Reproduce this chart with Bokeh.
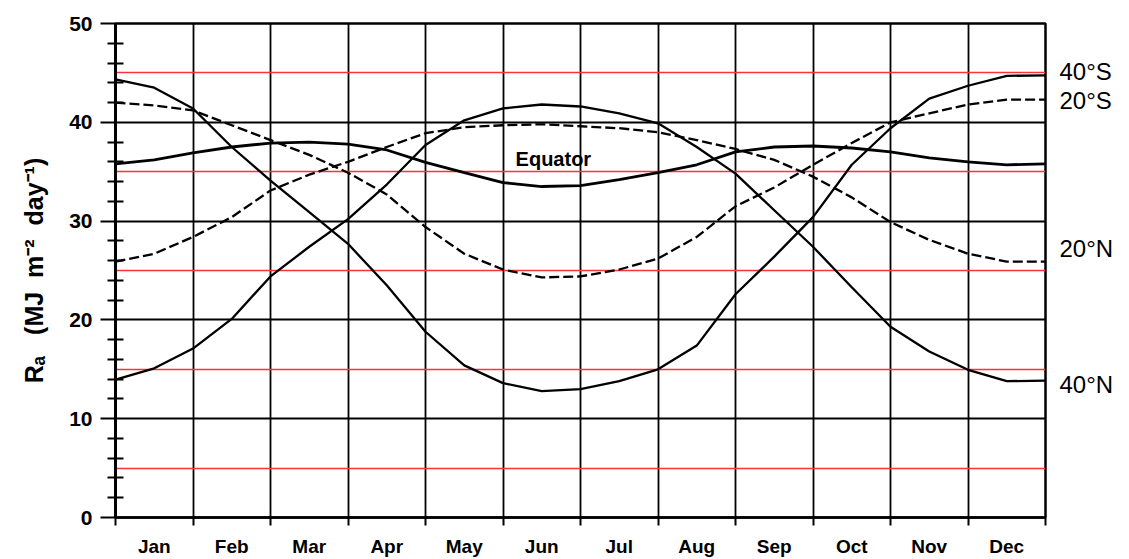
from bokeh.plotting import figure
from bokeh.models import FixedTicker, LinearAxis, Grid, Range1d, Label
from bokeh.embed import file_html
from bokeh.resources import INLINE

# ---- data -------------------------------------------------------------
months = ["Jan", "Feb", "Mar", "Apr", "May", "Jun",
          "Jul", "Aug", "Sep", "Oct", "Nov", "Dec"]
# sample positions: month boundaries and mid-months (in month units)
x_pos = [0, 0.5, 1, 1.5, 2, 2.5, 3, 3.5, 4, 4.5, 5, 5.5, 6,
         6.5, 7, 7.5, 8, 8.5, 9, 9.5, 10, 10.5, 11, 11.5, 12]

ra_40N = [13.95, 15.1, 17.1, 20.1, 24.4, 27.4, 30.2, 33.7, 37.7, 40.2, 41.4, 41.8, 41.6,
          40.9, 39.9, 37.5, 34.8, 31.1, 27.4, 23.3, 19.3, 16.8, 14.95, 13.8, 13.85]
ra_20N = [25.9, 26.7, 28.4, 30.4, 33.1, 34.7, 36.0, 37.5, 38.9, 39.5, 39.7, 39.8, 39.6,
          39.4, 39.0, 38.2, 37.3, 36.2, 34.5, 32.4, 29.9, 28.1, 26.7, 25.9, 25.9]
ra_eq = [35.8, 36.2, 36.9, 37.5, 37.9, 38.0, 37.8, 37.2, 35.95, 34.9, 33.9, 33.5, 33.6,
         34.2, 34.9, 35.7, 37.0, 37.5, 37.6, 37.4, 37.0, 36.4, 36.0, 35.7, 35.8]
ra_20S = [42.0, 41.7, 41.2, 39.7, 38.2, 36.7, 34.9, 32.7, 29.4, 26.7, 25.1, 24.3, 24.4,
          25.1, 26.2, 28.4, 31.5, 33.4, 35.7, 37.9, 40.0, 40.9, 41.8, 42.3, 42.3]
ra_40S = [44.35, 43.5, 41.4, 37.5, 34.1, 30.9, 27.7, 23.5, 18.8, 15.4, 13.6, 12.8, 13.0,
          13.8, 15.0, 17.4, 22.6, 26.4, 30.4, 35.7, 39.4, 42.4, 43.7, 44.7, 44.75]

lat_labels = ["40°S", "20°S", "20°N", "40°N"]
lat_label_y = [45.1, 42.2, 27.2, 13.5]

y_ticks = [0, 10, 20, 30, 40, 50]

# ---- figure -----------------------------------------------------------
FONT = "Liberation Sans"
NB = "\u00a0"
month_edges = list(range(13))
month_centers = [m + 0.5 for m in range(12)]

p = figure(width=1129, height=559, x_range=Range1d(0, 12), y_range=Range1d(0, 50),
           output_backend="svg", toolbar_location=None,
           min_border_left=115, min_border_right=84, min_border_top=23, min_border_bottom=34)
p.background_fill_color = "white"
p.border_fill_color = "white"
p.outline_line_color = "black"
p.outline_line_width = 2.5

# grids
p.xgrid.ticker = FixedTicker(ticks=month_edges)
p.xgrid.grid_line_color = "black"
p.xgrid.grid_line_width = 1.8
p.ygrid.ticker = FixedTicker(ticks=[10, 20, 30, 40])
p.ygrid.grid_line_color = "black"
p.ygrid.grid_line_width = 2.2
red_grid = Grid(dimension=1, ticker=FixedTicker(ticks=[5, 15, 25, 35, 45]),
                grid_line_color="#ff3333", grid_line_width=1.6)
p.add_layout(red_grid)

# x axis
xa = p.xaxis[0]
xa.ticker = FixedTicker(ticks=month_centers, minor_ticks=month_edges)
xa.major_label_overrides = {c: m for c, m in zip(month_centers, months)}
xa.major_tick_in = 0
xa.major_tick_out = 0
xa.minor_tick_in = 0
xa.minor_tick_out = 8
xa.minor_tick_line_width = 2
xa.minor_tick_line_color = "black"
xa.axis_line_width = 2.5
xa.axis_line_color = "black"
xa.major_label_text_font = FONT
xa.major_label_text_font_style = "bold"
xa.major_label_text_font_size = "19px"
xa.major_label_text_color = "black"
xa.major_label_standoff = 10

# y axis
ya = p.yaxis[0]
ya.ticker = FixedTicker(ticks=y_ticks, minor_ticks=[v for v in range(2, 50, 2) if v % 10])
ya.axis_line_width = 3
ya.axis_line_color = "black"
ya.major_tick_in = 0
ya.major_tick_out = 15
ya.major_tick_line_width = 2.2
ya.major_tick_line_color = "black"
ya.minor_tick_in = 8
ya.minor_tick_out = 8
ya.minor_tick_line_width = 2
ya.minor_tick_line_color = "black"
ya.major_label_text_font = FONT
ya.major_label_text_font_style = "bold"
ya.major_label_text_font_size = "21px"
ya.major_label_text_color = "black"
ya.major_label_standoff = 8
ya.axis_label = "Rₐ" + NB * 3 + "(MJ" + NB * 2 + "m⁻²" + NB * 2 + "day⁻¹)"
ya.axis_label_text_font = FONT
ya.axis_label_text_font_style = "bold"
ya.axis_label_text_font_size = "25px"
ya.axis_label_text_color = "black"
ya.axis_label_standoff = 18

# right-side latitude labels
ra = LinearAxis(ticker=FixedTicker(ticks=lat_label_y),
                major_label_overrides={v: t for v, t in zip(lat_label_y, lat_labels)},
                axis_line_color=None, major_tick_line_color=None, minor_tick_line_color=None,
                major_label_text_font=FONT, major_label_text_font_size="24px",
                major_label_text_color="black", major_label_standoff=8)
p.add_layout(ra, "right")

# curves
p.line(x_pos, ra_40S, line_color="black", line_width=2.3)
p.line(x_pos, ra_20S, line_color="black", line_width=2.3, line_dash="10 4")
p.line(x_pos, ra_eq, line_color="black", line_width=2.8)
p.line(x_pos, ra_20N, line_color="black", line_width=2.3, line_dash="10 4")
p.line(x_pos, ra_40N, line_color="black", line_width=2.3)

p.add_layout(Label(x=5.65, y=36.3, text="Equator", text_font=FONT, text_font_style="bold",
                   text_font_size="20px", text_align="center", text_baseline="middle",
                   text_color="black"))

open("out.html", "w").write(file_html(p, INLINE))
